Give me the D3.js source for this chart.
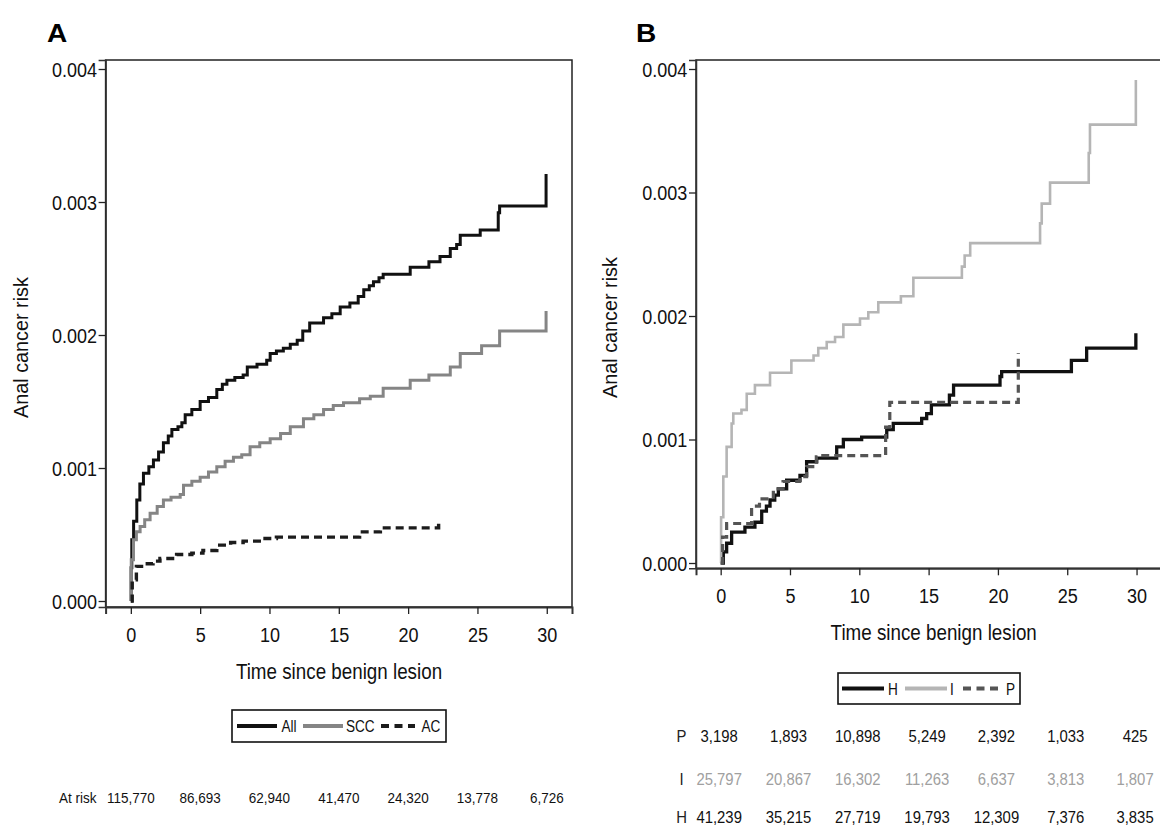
<!DOCTYPE html>
<html><head><meta charset="utf-8">
<script src="https://cdn.jsdelivr.net/npm/d3@7"></script>
<style>
body{margin:0;background:#fff}
svg{display:block}
text{font-family:"Liberation Sans",Arial,Helvetica,sans-serif;fill:#111}
</style>
</head><body>
<svg id="c" width="1160" height="828"></svg>
<script>
// ---------- data ----------
const xTicks = [0, 5, 10, 15, 20, 25, 30];
const yTicks = [0, 0.001, 0.002, 0.003, 0.004];

// Panel A
const legendA = ["All", "SCC", "AC"];
const allT = [0,0.02,0.07,0.2,0.43,0.65,0.91,1.3,1.63,2.0,2.35,2.7,2.96,3.4,3.68,3.92,4.4,5.0,5.6,6.2,6.6,6.93,7.5,8.1,8.4,9.1,9.8,10.05,10.5,11.0,11.5,12.0,12.4,12.9,13.9,14.5,15.1,15.8,16.4,16.8,17.2,17.5,17.9,18.2,20.15,21.5,22.3,23.04,23.5,23.76,25.2,26.5,26.6,29.95];
const allV = [0,0.00025,0.00046,0.0006,0.00076,0.00088,0.00096,0.00101,0.00106,0.00112,0.00119,0.00124,0.00129,0.00131,0.00134,0.0014,0.00144,0.0015,0.00153,0.00159,0.00163,0.00166,0.00168,0.0017,0.00176,0.00178,0.00181,0.00186,0.00188,0.0019,0.00193,0.00196,0.00203,0.00209,0.00213,0.00216,0.00221,0.00224,0.00229,0.00234,0.00237,0.0024,0.00243,0.002456,0.00251,0.00255,0.00259,0.00265,0.00268,0.00275,0.00279,0.00292,0.00297,0.00321];
const sccT = [0,0.03,0.19,0.4,0.67,1.0,1.39,1.9,2.35,2.9,3.56,3.8,4.4,5.0,5.6,6.2,6.8,7.4,8.0,8.6,9.3,10.05,10.8,11.5,12.45,13.2,13.9,14.6,15.34,16.5,17.27,18.2,20.15,21.5,23.04,23.76,25.3,26.6,29.95];
const sccV = [0,0.00031,0.00046,0.00052,0.00056,0.00061,0.00066,0.00071,0.00076,0.00078,0.0008,0.00087,0.0009,0.00093,0.00097,0.00101,0.00105,0.00108,0.0011,0.00116,0.00119,0.00122,0.00126,0.00131,0.00137,0.0014,0.00144,0.00147,0.00149,0.00152,0.00154,0.0016,0.00166,0.0017,0.00176,0.00186,0.00192,0.00203,0.00218];
const acT = [0,0.1,0.4,0.9,1.6,2.1,3.3,4.4,5.2,6.2,7.2,8.1,9.5,10.5,16.5,18.0,22.2];
const acV = [0,0.00016,0.00026,0.00028,0.0003,0.00032,0.00035,0.00036,0.00038,0.00042,0.00044,0.00045,0.00047,0.00048,0.00052,0.00055,0.0006];
const atRiskA = [115770, 86693, 62940, 41470, 24320, 13778, 6726];

// Panel B
const legendB = ["H", "I", "P"];
const hT = [0,0.19,0.43,0.79,1.75,2.47,2.96,3.3,3.56,3.9,4.16,4.76,5.72,6.2,6.93,8.37,8.85,10.17,11.98,12.45,14.5,14.86,15.2,16.5,16.8,20.15,20.27,25.3,26.4,29.95];
const hV = [0,0.00009,0.00016,0.00025,0.00029,0.00033,0.00042,0.00046,0.00051,0.00055,0.0006,0.00067,0.00071,0.00082,0.00085,0.00094,0.001,0.00102,0.00108,0.00113,0.00117,0.00121,0.00128,0.00136,0.00144,0.00151,0.00155,0.00164,0.00174,0.00186];
const iT = [0,0.03,0.19,0.43,0.79,0.91,1.5,1.88,2.47,3.56,5.1,6.7,7.04,7.65,8.25,8.85,10.05,10.65,11.37,13.0,13.9,17.4,17.6,18.0,23.04,23.16,23.76,26.55,26.64,29.95];
const iV = [0,0.00037,0.0007,0.00094,0.00113,0.00121,0.00124,0.00137,0.00144,0.00154,0.00164,0.00168,0.00174,0.00179,0.00183,0.00193,0.00198,0.00203,0.00211,0.00216,0.00231,0.0024,0.00249,0.00259,0.00275,0.00291,0.00308,0.00332,0.00355,0.00391];
const pT = [0,0.14,0.43,2.23,2.8,3.8,4.5,5.7,6.2,6.9,7.2,11.9,12.2,21.47];
const pV = [0,0.00021,0.00032,0.00046,0.00052,0.0006,0.00066,0.0007,0.00078,0.00086,0.00087,0.0011,0.0013,0.0017];
const atRiskP = [3198, 1893, 10898, 5249, 2392, 1033, 425];
const atRiskI = [25797, 20867, 16302, 11263, 6637, 3813, 1807];
const atRiskH = [41239, 35215, 27719, 19793, 12309, 7376, 3835];

// ---------- drawing ----------
const svg = d3.select("#c");
const fmtN = d3.format(",");
const fmtY = d3.format(".3f");

function txt(g, x, y, s, size, sx, anchor, fill, weight) {
  return g.append("text")
    .attr("transform", `translate(${x},${y}) scale(${sx},1)`)
    .attr("font-size", size)
    .attr("text-anchor", anchor || "middle")
    .style("fill", fill || "#111")
    .attr("font-weight", weight || "normal")
    .text(s);
}

function panel(cfg) {
  const g = svg.append("g");
  const x = d3.scaleLinear().domain(cfg.xDom).range(cfg.xRange);
  const y = d3.scaleLinear().domain(cfg.yDom).range(cfg.yRange);
  const [x0, x1] = cfg.xRange, [y1, y0] = cfg.yRange;

  // frame
  g.append("rect").attr("x", x0).attr("y", y0).attr("width", x1 - x0).attr("height", y1 - y0)
    .attr("fill", "none").attr("stroke", "#222").attr("stroke-width", 1.5);

  // y axis
  const ya = g.append("g").attr("transform", `translate(${x0},0)`)
    .call(d3.axisLeft(y).tickValues(yTicks).tickFormat(fmtY).tickSize(7).tickPadding(2));
  ya.select(".domain").attr("stroke", "#333").attr("stroke-width", 1.5);
  ya.selectAll(".tick line").attr("stroke", "#222").attr("stroke-width", 1.3);
  ya.selectAll(".tick text").attr("font-size", 20).attr("x", -9.6).attr("dy", "0.36em")
    .attr("transform", "scale(0.9,1)").style("fill", "#111").attr("font-family", null);

  // x axis
  const xa = g.append("g").attr("transform", `translate(0,${y1})`)
    .call(d3.axisBottom(x).tickValues(xTicks).tickSize(7));
  xa.select(".domain").attr("stroke", "#333").attr("stroke-width", 2);
  xa.selectAll(".tick line").attr("stroke", "#222").attr("stroke-width", 1.3);
  xa.selectAll(".tick text").attr("font-size", 21).attr("y", 35).attr("dy", 0)
    .attr("transform", "scale(0.86,1)").style("fill", "#111").attr("font-family", null);

  // axis titles
  txt(g, cfg.titleX, y1 + 72, "Time since benign lesion", 22, 0.855);
  g.append("text")
    .attr("transform", `translate(${cfg.yLabX},${cfg.yLabY}) rotate(-90) scale(0.99,1)`)
    .attr("font-size", 20).attr("text-anchor", "middle").text("Anal cancer risk");
  txt(g, cfg.panelX, 42, cfg.panelLabel, 26, 1.08, "start", "#000", "bold");

  // curves
  const line = d3.line().x(d => x(d[0])).y(d => y(d[1])).curve(d3.curveStepAfter);
  cfg.series.forEach(s => {
    const pts = s.t.map((t, i) => [t, s.v[i]]);
    g.append("path").attr("d", line(pts)).attr("fill", "none")
      .attr("stroke", s.color).attr("stroke-width", s.w)
      .attr("stroke-dasharray", s.dash || null)
      .attr("stroke-linejoin", "miter").attr("stroke-linecap", "butt");
  });

  // legend
  const L = cfg.legend;
  g.append("rect").attr("x", L.x0).attr("y", L.y0).attr("width", L.x1 - L.x0).attr("height", L.y1 - L.y0)
    .attr("fill", "#fff").attr("stroke", "#111").attr("stroke-width", 1.6);
  const ly = (L.y0 + L.y1) / 2;
  cfg.series.forEach((s, i) => {
    const it = L.items[i];
    g.append("line").attr("x1", it[0]).attr("x2", it[1]).attr("y1", ly).attr("y2", ly)
      .attr("stroke", s.color).attr("stroke-width", 4.2).attr("stroke-dasharray", s.legDash || null);
    txt(g, it[2], ly + 6.2, s.name, 17, 0.8, "start");
  });
  return {g, x, y};
}

const A = panel({
  xDom: [-1.82, 31.82], xRange: [105.6, 572],
  yDom: [-0.0000451, 0.0040677], yRange: [607, 60],
  titleX: 339, yLabX: 28, yLabY: 347.5, panelX: 47, panelLabel: "A",
  series: [
    {name: legendA[0], t: allT, v: allV, color: "#111", w: 3},
    {name: legendA[1], t: sccT, v: sccV, color: "#858585", w: 3},
    {name: legendA[2], t: acT, v: acV, color: "#1c1c1c", w: 3.4, dash: "8,5", legDash: "8,5.5"}
  ],
  legend: {x0: 232, x1: 446, y0: 710, y1: 742,
    items: [[237, 277, 281.5], [303, 343, 346], [381, 415, 421.5]]}
});

txt(A.g, 59, 803, "At risk", 15, 0.9, "start");
atRiskA.forEach((n, i) => txt(A.g, A.x(xTicks[i]), 803, fmtN(n), 15, 0.9));

const B = panel({
  xDom: [-1.78, 31.8], xRange: [696, 1161.5],
  yDom: [-0.0000429, 0.0040729], yRange: [568.3, 60],
  titleX: 933.7, yLabX: 617, yLabY: 327.5, panelX: 636, panelLabel: "B",
  series: [
    {name: legendB[0], t: hT, v: hV, color: "#111", w: 3.3},
    {name: legendB[1], t: iT, v: iV, color: "#b5b5b5", w: 2.6},
    {name: legendB[2], t: pT, v: pV, color: "#555", w: 3.2, dash: "8,5", legDash: "8,5.5"}
  ],
  legend: {x0: 838, x1: 1020, y0: 673, y1: 704,
    items: [[842, 884, 888], [905, 947, 950], [963, 999, 1006]]}
});

const rowsB = [
  {lab: "P", vals: atRiskP, base: 741.7, color: "#111"},
  {lab: "I", vals: atRiskI, base: 784.5, color: "#a0a0a0"},
  {lab: "H", vals: atRiskH, base: 823, color: "#111"}
];
rowsB.forEach(r => {
  txt(B.g, 681.5, r.base, r.lab, 16, 0.93, "middle", "#222");
  r.vals.forEach((n, i) => txt(B.g, B.x(xTicks[i]) - 1.5, r.base, fmtN(n), 16, 0.93, "middle", r.color));
});
</script>
</body></html>
